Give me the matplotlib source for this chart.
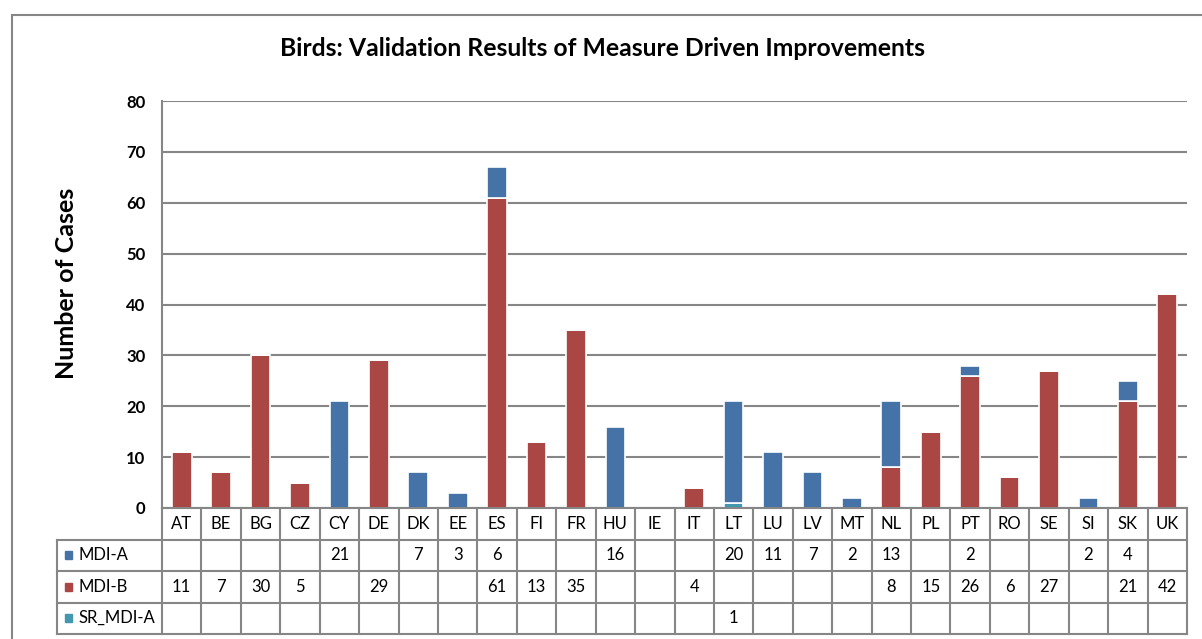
import numpy as np
import matplotlib
matplotlib.use("Agg")
import matplotlib.pyplot as plt
from matplotlib.patches import Rectangle

plt.rcParams['font.family'] = ['Lato', 'DejaVu Sans']

categories = ["AT", "BE", "BG", "CZ", "CY", "DE", "DK", "EE", "ES", "FI", "FR", "HU", "IE",
              "IT", "LT", "LU", "LV", "MT", "NL", "PL", "PT", "RO", "SE", "SI", "SK", "UK"]
nan = np.nan
mdi_a = [nan, nan, nan, nan, 21, nan, 7, 3, 6, nan, nan, 16, nan,
         nan, 20, 11, 7, 2, 13, nan, 2, nan, nan, 2, 4, nan]
mdi_b = [11, 7, 30, 5, nan, 29, nan, nan, 61, 13, 35, nan, nan,
         4, nan, nan, nan, nan, 8, 15, 26, 6, 27, nan, 21, 42]
sr_mdi_a = [nan] * 14 + [1] + [nan] * 11
series_names = ["MDI-A", "MDI-B", "SR_MDI-A"]
yticks = [0, 10, 20, 30, 40, 50, 60, 70, 80]

c_a = "#4572A7"
c_b = "#AA4643"
c_sr = "#4198AF"
grid_c = "#868686"

W, H = 1202, 639
fig = plt.figure(figsize=(W / 100, H / 100), dpi=100)

def fx(px):
    return px / W

def fy(py):
    return 1 - py / H

# outer border
fig.patches.append(Rectangle((fx(12), fy(660)), fx(1220) - fx(12), fy(15) - fy(660),
                             transform=fig.transFigure, fill=False, edgecolor=grid_c,
                             linewidth=1.5, zorder=0))

pl, pr, pt, pb = 162, 1187, 101, 508
ax = fig.add_axes([fx(pl), fy(pb), fx(pr) - fx(pl), fy(pt) - fy(pb)])
n = len(categories)
x = np.arange(n)
a = np.nan_to_num(np.array(mdi_a, float))
b = np.nan_to_num(np.array(mdi_b, float))
s = np.nan_to_num(np.array(sr_mdi_a, float))
bw = 0.5
ax.bar(x, b, bw, color=c_b, edgecolor="white", linewidth=1.2, zorder=3)
ax.bar(x, s, bw, bottom=b, color=c_sr, edgecolor="white", linewidth=1.2, zorder=3)
ax.bar(x, a, bw, bottom=b + s, color=c_a, edgecolor="white", linewidth=1.2, zorder=3)
ax.set_xlim(-0.5, n - 0.5)
ax.set_ylim(0, 80)
ax.set_yticks(yticks)
ax.set_yticklabels([str(t) for t in yticks], fontsize=12, fontweight="bold")
ax.set_xticks([])
ax.tick_params(axis="y", length=0, pad=12)
for sp in ["top", "right", "bottom"]:
    ax.spines[sp].set_visible(False)
ax.spines["left"].set_color(grid_c)
ax.spines["left"].set_linewidth(1.5)
ax.grid(axis="y", color=grid_c, linewidth=1.5, zorder=0)
ax.set_axisbelow(True)

fig.text(fx(67), fy(283), "Number of Cases", rotation=90, ha="center", va="center",
         fontsize=18, fontweight="bold")

fig.text(fx(602), fy(48), "Birds: Validation Results of Measure Driven Improvements",
         ha="center", va="center", fontsize=17.8, fontweight="bold")

# data table
colw = (pr - pl) / n
tl = 57
extra = (pl - tl) / colw
tax = fig.add_axes([fx(tl), fy(634), fx(pr) - fx(tl), fy(508) - fy(634)])
tax.set_xlim(-0.5 - extra, n - 0.5)
tax.set_ylim(4, 0)
tax.axis("off")
lw = 1.5
tax.plot([-0.5, n - 0.5], [0, 0], color=grid_c, lw=lw, clip_on=False)
for yy in [1, 2, 3, 4]:
    tax.plot([-0.5 - extra, n - 0.5], [yy, yy], color=grid_c, lw=lw, clip_on=False)
tax.plot([-0.5 - extra, -0.5 - extra], [1, 4], color=grid_c, lw=lw, clip_on=False)
for i in range(n + 1):
    tax.plot([i - 0.5, i - 0.5], [0, 4], color=grid_c, lw=lw, clip_on=False)
for i, c in enumerate(categories):
    tax.text(i, 0.5, c, ha="center", va="center", fontsize=12)
rows = [mdi_a, mdi_b, sr_mdi_a]
colors = [c_a, c_b, c_sr]
for r, (name, vals, col) in enumerate(zip(series_names, rows, colors)):
    yy = r + 1.5
    tax.add_patch(Rectangle((-0.5 - extra + 0.2, yy - 0.13), 0.18, 0.26,
                            color=col, clip_on=False))
    tax.text(-0.5 - extra + 0.55, yy, name, ha="left", va="center", fontsize=12)
    for i, v in enumerate(vals):
        if not np.isnan(v):
            tax.text(i, yy, str(int(v)), ha="center", va="center", fontsize=12)

fig.savefig("out.png", dpi=100)
